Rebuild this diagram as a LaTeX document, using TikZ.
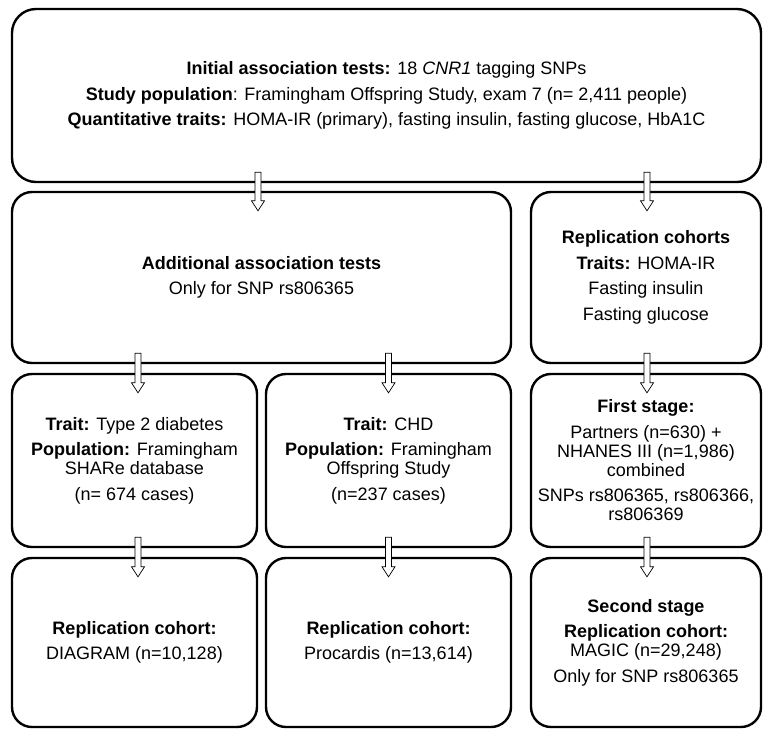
\documentclass[tikz,border=0pt]{standalone}
\usepackage{fontspec}
\setmainfont{Liberation Sans}
\usetikzlibrary{calc}
\newcommand{\parsk}{\\[6.5pt]}
\newcommand{\barrow}[3]{%
  \draw[blockarrow] let \p1=(#1.south), \p2=(#2.north) in
    (\x2+#3pt-3pt,\y1+11pt) -- (\x2+#3pt-3pt,\y2-10pt) -- (\x2+#3pt-6.5pt,\y2-10pt)
    -- (\x2+#3pt,\y2-20pt) -- (\x2+#3pt+6.5pt,\y2-10pt) -- (\x2+#3pt+3pt,\y2-10pt)
    -- (\x2+#3pt+3pt,\y1+11pt) -- cycle;}
\begin{document}
\begin{tikzpicture}[x=1pt,y=-1pt,
  box/.style={draw, line width=2.4pt, rounded corners=20pt, align=center, inner sep=0pt,
    font=\fontsize{18}{19}\selectfont},
  blockarrow/.style={draw, fill=white, line width=0.7pt, line join=miter}]
\fill[white] (0,0) rectangle (763,729);
\useasboundingbox (0,0) rectangle (763,729);
\node[box, minimum width=749, minimum height=173, rounded corners=24pt] (init) at (386.5,95.5)
  {{\bfseries Initial association tests:} 18 \emph{CNR1} tagging SNPs\parsk
   {\bfseries Study population}: Framingham Offspring Study, exam 7 (n= 2,411 people)\parsk
   {\bfseries Quantitative traits:} HOMA-IR (primary), fasting insulin, fasting glucose, HbA1C};
\node[box, minimum width=499, minimum height=171] (add) at (261.5,277.5)
  {{\bfseries Additional association tests}\parsk Only for SNP rs806365};
\node[box, minimum width=230, minimum height=171] (repc) at (646,277.5)
  {{\bfseries Replication cohorts}\parsk {\bfseries Traits:} HOMA-IR\parsk Fasting insulin\parsk Fasting glucose};
\node[box, minimum width=245, minimum height=173] (t2d) at (134.5,460.5)
  {{\bfseries Trait:} Type 2 diabetes\parsk {\bfseries Population:} Framingham\\ SHARe database\parsk (n= 674 cases)};
\node[box, minimum width=245, minimum height=173] (chd) at (388.5,460.5)
  {{\bfseries Trait:} CHD\parsk {\bfseries Population:} Framingham\\ Offspring Study\parsk (n=237 cases)};
\node[box, minimum width=230, minimum height=173] (first) at (646,460.5)
  {{\bfseries First stage:}\parsk Partners (n=630) +\\ NHANES III (n=1,986)\\ combined\parsk SNPs rs806365, rs806366,\\ rs806369};
\node[box, minimum width=245, minimum height=169] (diag) at (134.5,642.5)
  {{\bfseries Replication cohort:}\parsk DIAGRAM (n=10,128)};
\node[box, minimum width=245, minimum height=169] (proc) at (388.5,642.5)
  {{\bfseries Replication cohort:}\parsk Procardis (n=13,614)};
\node[box, minimum width=230, minimum height=169] (second) at (646,642.5)
  {{\bfseries Second stage}\parsk {\bfseries Replication cohort:}\\ MAGIC (n=29,248)\parsk Only for SNP rs806365};
\barrow{init}{add}{-3.5}
\barrow{init}{repc}{1}
\barrow{add}{t2d}{3.5}
\barrow{add}{chd}{0}
\barrow{repc}{first}{1}
\barrow{t2d}{diag}{3.5}
\barrow{chd}{proc}{0}
\barrow{first}{second}{1}
\end{tikzpicture}
\end{document}
